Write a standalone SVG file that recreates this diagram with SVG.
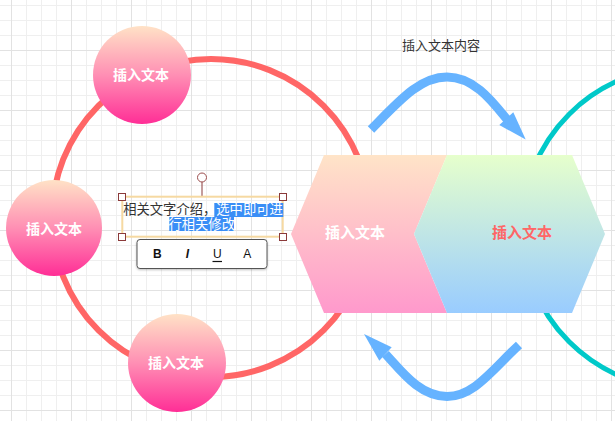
<svg xmlns="http://www.w3.org/2000/svg" width="615" height="421" viewBox="0 0 615 421">
<style>
.nodeTxt{font-family:"Liberation Sans","Noto Sans CJK SC",sans-serif;font-weight:bold;font-size:14px;fill:#fff;text-anchor:middle}
.hexTxt{font-family:"Liberation Sans","Noto Sans CJK SC",sans-serif;font-weight:bold;font-size:15px;text-anchor:middle}
.lbl{font-family:"Liberation Sans","Noto Sans CJK SC",sans-serif;font-size:13px;fill:#333;text-anchor:middle}
.shaft{fill:none;stroke:#66b3ff;stroke-width:9}
.head{fill:#66b3ff}
.handle{fill:#fff;stroke:#8b3a3a;stroke-width:1}
.tb{font-family:"Liberation Sans",sans-serif;font-size:12px;fill:#111;text-anchor:middle}
</style>
<defs>
<pattern id="minor" x="11" y="5" width="15" height="15" patternUnits="userSpaceOnUse">
<path d="M0.5 0V15M0 0.5H15" stroke="#efefef" stroke-width="1" fill="none"/>
</pattern>
<pattern id="major" x="11" y="-10" width="60" height="60" patternUnits="userSpaceOnUse">
<path d="M0.5 0V60M0 0.5H60" stroke="#e2e2e2" stroke-width="1" fill="none"/>
</pattern>
<linearGradient id="gNode" x1="0" y1="0" x2="0" y2="1">
<stop offset="0" stop-color="#ffe2c6"/>
<stop offset="0.5" stop-color="#ff8fb4"/>
<stop offset="1" stop-color="#ff2e96"/>
</linearGradient>
<linearGradient id="gLeft" x1="0" y1="0" x2="0" y2="1">
<stop offset="0" stop-color="#ffe4c8"/>
<stop offset="1" stop-color="#ff99cc"/>
</linearGradient>
<linearGradient id="gRight" x1="0" y1="0" x2="0" y2="1">
<stop offset="0" stop-color="#e6ffcc"/>
<stop offset="1" stop-color="#99ccff"/>
</linearGradient>
<filter id="sh" x="-10%" y="-20%" width="120%" height="150%">
<feDropShadow dx="0" dy="1" stdDeviation="1.2" flood-color="#000" flood-opacity="0.25"/>
</filter>
</defs>
<rect width="615" height="421" fill="#fff"/>
<rect width="615" height="421" fill="url(#minor)"/>
<rect width="615" height="421" fill="url(#major)"/>

<circle cx="211" cy="218" r="159" fill="none" stroke="#ff6666" stroke-width="6"/>
<circle cx="683" cy="228" r="161" fill="none" stroke="#00c9c9" stroke-width="5"/>

<g id="hex-left">
<polygon points="324,155 447,155 414,234 447,313 324,313 291,234" fill="url(#gLeft)"/>
<text class="hexTxt" x="355" y="238" fill="#fff">插入文本</text>
</g>
<g id="hex-right">
<polygon points="447,155 572,155 605,234 572,313 447,313 414,234" fill="url(#gRight)"/>
<text class="hexTxt" x="522" y="238" fill="#ff6666">插入文本</text>
</g>

<g id="node-top">
<circle cx="142" cy="75" r="49" fill="url(#gNode)"/>
<text class="nodeTxt" x="141" y="79.7">插入文本</text>
</g>
<g id="node-left">
<circle cx="54" cy="228" r="48" fill="url(#gNode)"/>
<text class="nodeTxt" x="54" y="234">插入文本</text>
</g>
<g id="node-bottom">
<circle cx="177" cy="363" r="49" fill="url(#gNode)"/>
<text class="nodeTxt" x="176" y="368.3">插入文本</text>
</g>

<g id="connectors">
<path class="shaft" d="M371,129.5 C400,100 420,77 447,77 C474,77 492,101 507,119.5"/>
<polygon class="head" points="525.7,139.5 513.3,112.3 499.3,125"/>
<path class="shaft" d="M519,345 C492,370 474,396.5 447,396.5 C420,396.5 402,372 385.5,354"/>
<polygon class="head" points="364,334 391.7,347.3 379.3,360.7"/>
</g>

<g id="label-top">
<text class="lbl" x="441" y="50.3">插入文本内容</text>
</g>

<g id="textbox">
<line x1="202" y1="182" x2="202" y2="197" stroke="#8b3a3a" stroke-width="1"/>
<circle cx="202" cy="177.5" r="4.5" fill="#fff" stroke="#9b4c4c" stroke-width="1"/>
<rect x="122.3" y="196.7" width="160.4" height="40" fill="none" stroke="#f6d9a2" stroke-width="2"/>
<rect x="214.3" y="203" width="69" height="14" fill="#3a8ef6"/>
<rect x="169.3" y="217" width="64.7" height="14" fill="#3a8ef6"/>
<text x="203" y="213.8" font-family="Liberation Sans,Noto Sans CJK SC,sans-serif" font-size="13.3" text-anchor="middle" fill="#333">相关文字介绍，<tspan fill="#fff">选中即可进</tspan></text>
<text x="201.7" y="228.8" font-family="Liberation Sans,Noto Sans CJK SC,sans-serif" font-size="13.3" text-anchor="middle" fill="#fff">行相关修改</text>
<rect class="handle" x="118.5" y="193.5" width="7" height="7"/>
<rect class="handle" x="279.5" y="193.5" width="7" height="7"/>
<rect class="handle" x="118.5" y="233.5" width="7" height="7"/>
<rect class="handle" x="279.5" y="233.5" width="7" height="7"/>
</g>

<g id="toolbar">
<rect x="137" y="239.5" width="130" height="29" rx="3" fill="#fff" stroke="#555" stroke-width="1" filter="url(#sh)"/>
<text class="tb" x="157.3" y="258" font-weight="bold">B</text>
<text class="tb" x="187.3" y="258" font-weight="bold" font-style="italic">I</text>
<text class="tb" x="217.3" y="258">U</text>
<line x1="212.5" y1="261.5" x2="222" y2="261.5" stroke="#111" stroke-width="1.2"/>
<text class="tb" x="247.3" y="258.3" font-size="13">A</text>
</g>
</svg>
